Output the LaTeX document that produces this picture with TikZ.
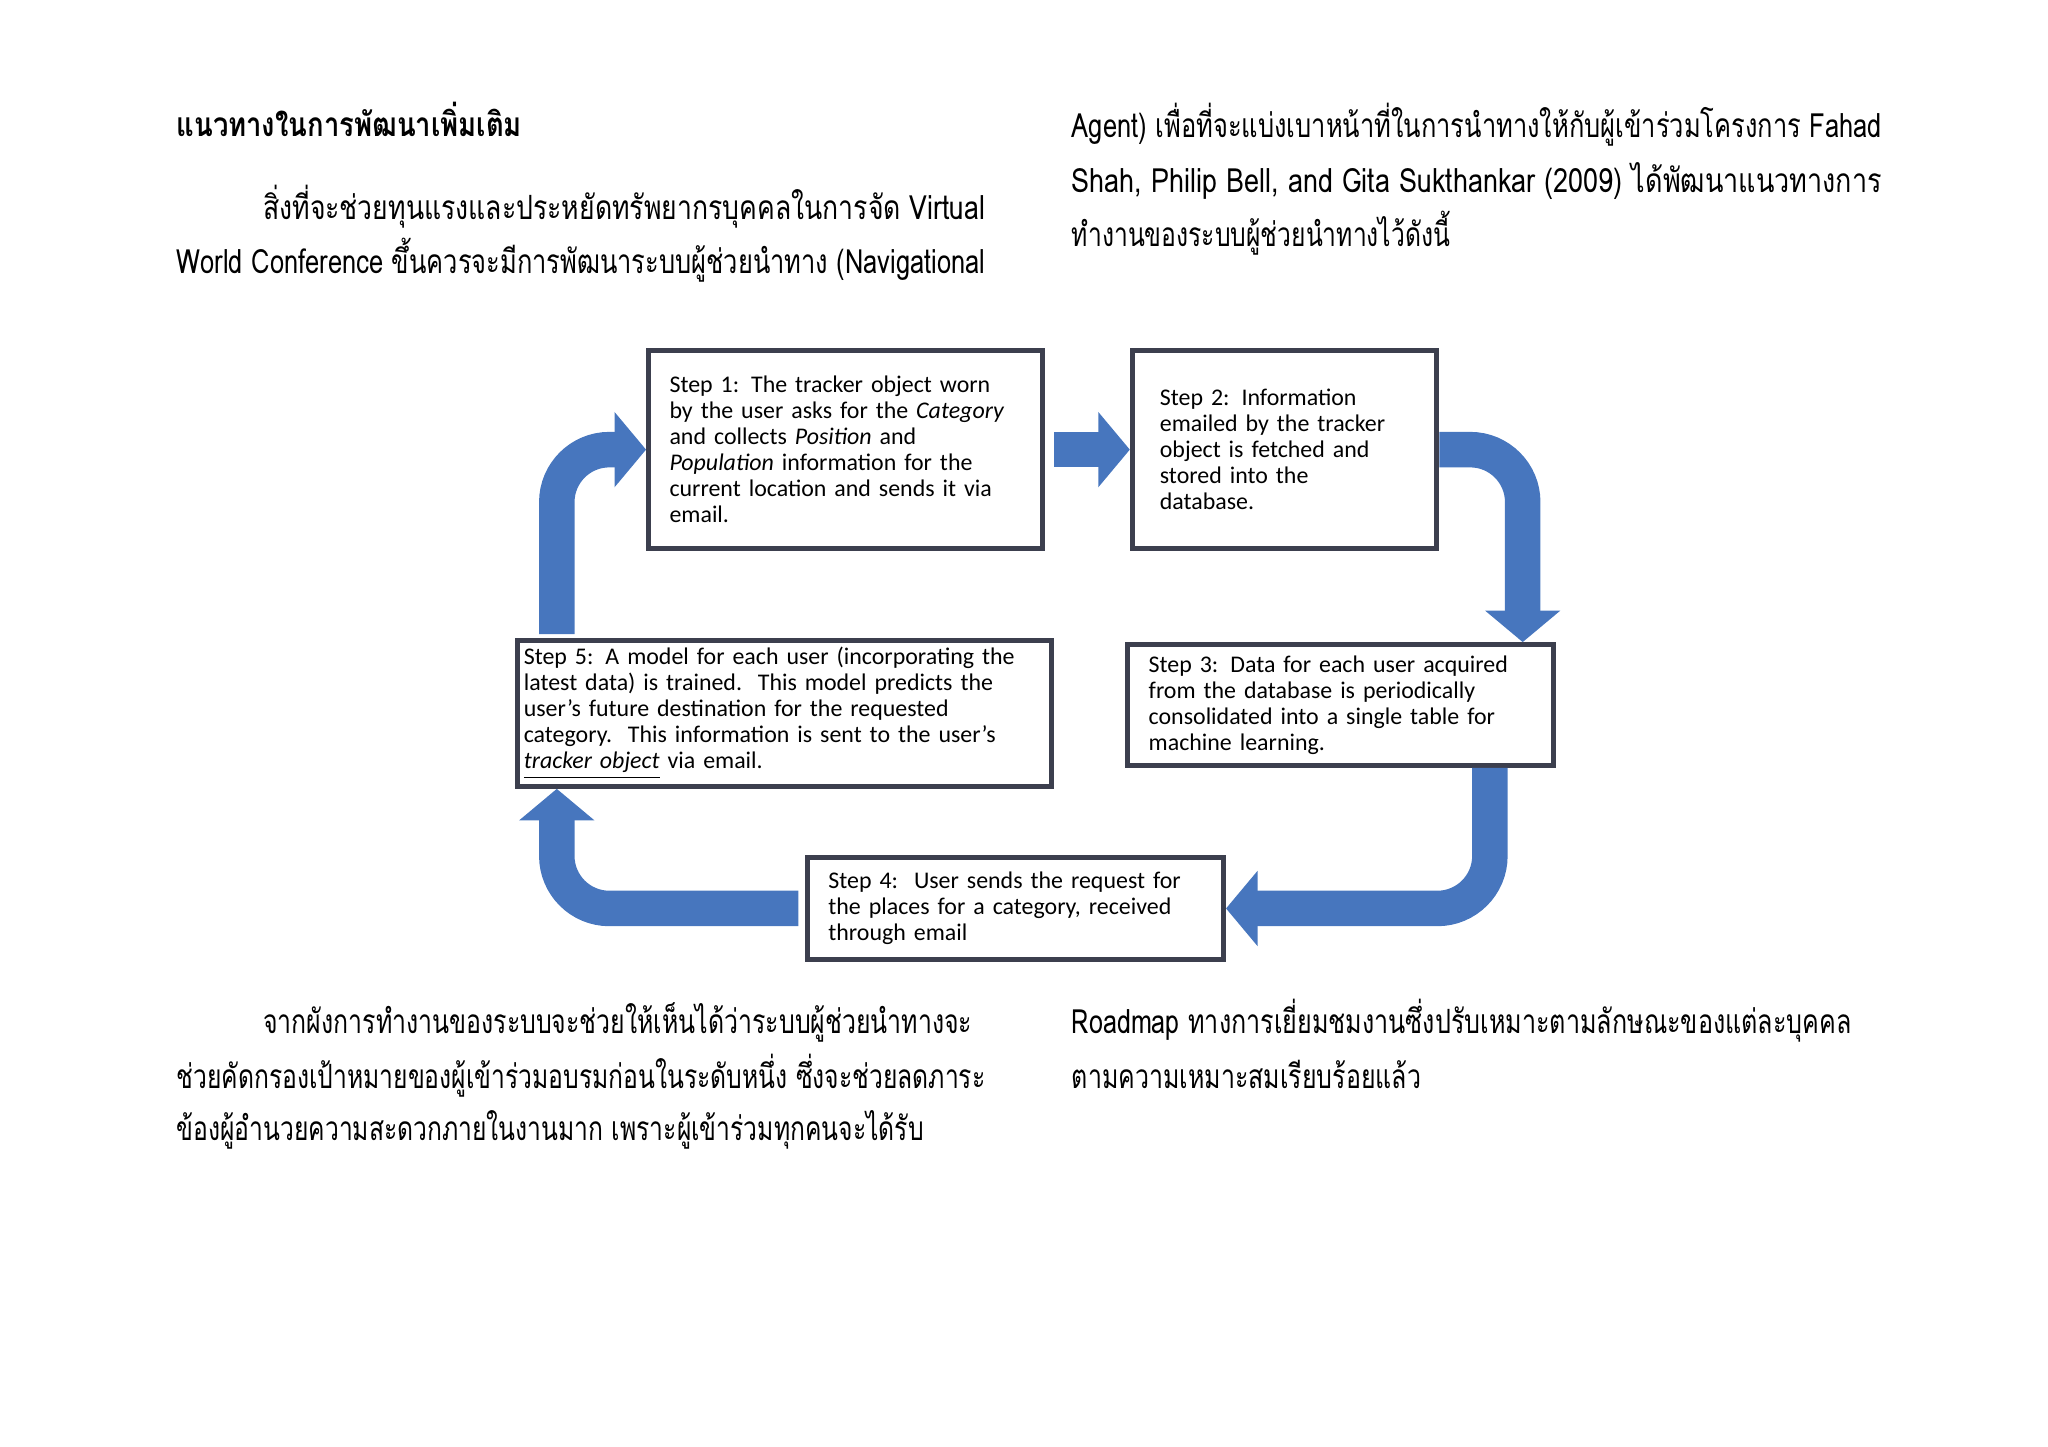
\documentclass[tikz,border=0pt]{standalone}
\usepackage{fontspec}
\usepackage{graphicx}
\setmainfont{Carlito}
\newfontfamily\thai[Script=Thai]{Loma}
\usetikzlibrary{arrows.meta,calc}
\newlength\dpx \setlength\dpx{0.01313cm}
\newcommand\fitw[2]{\resizebox{#1\dpx}{\height}{#2}}
\definecolor{arrblue}{HTML}{4776BE}
\definecolor{boxline}{HTML}{3C3F4E}
\tikzset{
 stepbox/.style={draw=boxline,line width=1.4pt,fill=white,align=left,font=\fontsize{6.8}{7.4}\selectfont,inner ysep=0pt},
 bigarrow/.style={draw=arrblue,line width=0.3545cm,rounded corners=0.525cm,-{Triangle[width=0.735cm,length=0.315cm]}},
 para/.style={anchor=base west,inner sep=0pt,font=\thai\fontsize{9.5}{12}\selectfont}
}
\begin{document}
\begin{tikzpicture}[x=0.01313cm,y=-0.01313cm]
\useasboundingbox (0,0) rectangle (1560,1102);
\node[stepbox,minimum width=286\dpx,minimum height=151\dpx,text width=268\dpx,inner xsep=16\dpx] (b1) at (644,342.5) {Step 1: The tracker object worn\\by the user asks for the \textit{Category}\\and collects \textit{Position} and\\\textit{Population} information for the\\current location and sends it via\\email.};
\node[stepbox,minimum width=213\dpx,minimum height=151\dpx,text width=190\dpx,inner xsep=21\dpx] (b2) at (978.5,342.5) {Step 2: Information\\emailed by the tracker\\object is fetched and\\stored into the\\database.};
\node[stepbox,minimum width=312\dpx,minimum height=92\dpx,text width=292\dpx,inner xsep=16\dpx] (b3) at (1021,537) {Step 3: Data for each user acquired\\from the database is periodically\\consolidated into a single table for\\machine learning.};
\node[stepbox,minimum width=305\dpx,minimum height=78\dpx,text width=285\dpx,inner xsep=16\dpx] (b4) at (773.5,692) {Step 4:\ \ User sends the request for\\the places for a category, received\\through email};
\node[stepbox,minimum width=403\dpx,minimum height=111\dpx,text width=397\dpx,inner xsep=5\dpx] (b5) at (597.5,543.5) {Step 5: A model for each user (incorporating the\\latest data) is trained.\ \ This model predicts the\\user's future destination for the requested\\category.\ \ This information is sent to the user's\\\underline{\textit{tracker object}} via email.};
% arrows
\draw[bigarrow] ($(b1.east)+(7,0)$) -- (b2.west);
\draw[bigarrow] (b2.east) -| ($(b3.north east)+(-25,0)$);
\draw[bigarrow] ($(b3.south east)+(-50,0)$) |- (b4.east);
\draw[bigarrow] ($(b4.west)+(-5,0)$) -| ($(b5.south west)+(32,0)$);
\draw[bigarrow] ($(b5.north west)+(32,-3)$) |- (b1.west);
% text
\node[para,font=\thai\bfseries\fontsize{9.5}{12}\selectfont] (h) at (134,104) {\fitw{263}{แนวทางในการพัฒนาเพิ่มเติม}};
\node[para] (l1) at (200,167) {\fitw{550}{สิ่งที่จะช่วยทุนแรงและประหยัดทรัพยากรบุคคลในการจัด Virtual}};
\node[para] (l2) at (134,208) {\fitw{616}{World Conference ขึ้นควรจะมีการพัฒนาระบบผู้ช่วยนำทาง (Navigational}};
\node[para] (r1) at (816,105) {\fitw{617}{Agent) เพื่อที่จะแบ่งเบาหน้าที่ในการนำทางให้กับผู้เข้าร่วมโครงการ Fahad}};
\node[para] (r2) at (816,147) {\fitw{617}{Shah, Philip Bell, and Gita Sukthankar (2009) ได้พัฒนาแนวทางการ}};
\node[para] (r3) at (816,188) {\fitw{288}{ทำงานของระบบผู้ช่วยนำทางไว้ดังนี้}};
\node[para] (l3) at (200,787) {\fitw{540}{จากผังการทำงานของระบบจะช่วยให้เห็นได้ว่าระบบผู้ช่วยนำทางจะ}};
\node[para] (l4) at (134,829) {\fitw{616}{ช่วยคัดกรองเป้าหมายของผู้เข้าร่วมอบรมก่อนในระดับหนึ่ง ซึ่งจะช่วยลดภาระ}};
\node[para] (l5) at (134,869) {\fitw{569}{ข้องผู้อำนวยความสะดวกภายในงานมาก เพราะผู้เข้าร่วมทุกคนจะได้รับ}};
\node[para] (r4) at (816,787) {\fitw{594}{Roadmap ทางการเยี่ยมชมงานซึ่งปรับเหมาะตามลักษณะของแต่ละบุคคล}};
\node[para] (r5) at (816,829) {\fitw{266}{ตามความเหมาะสมเรียบร้อยแล้ว}};
\end{tikzpicture}
\end{document}
